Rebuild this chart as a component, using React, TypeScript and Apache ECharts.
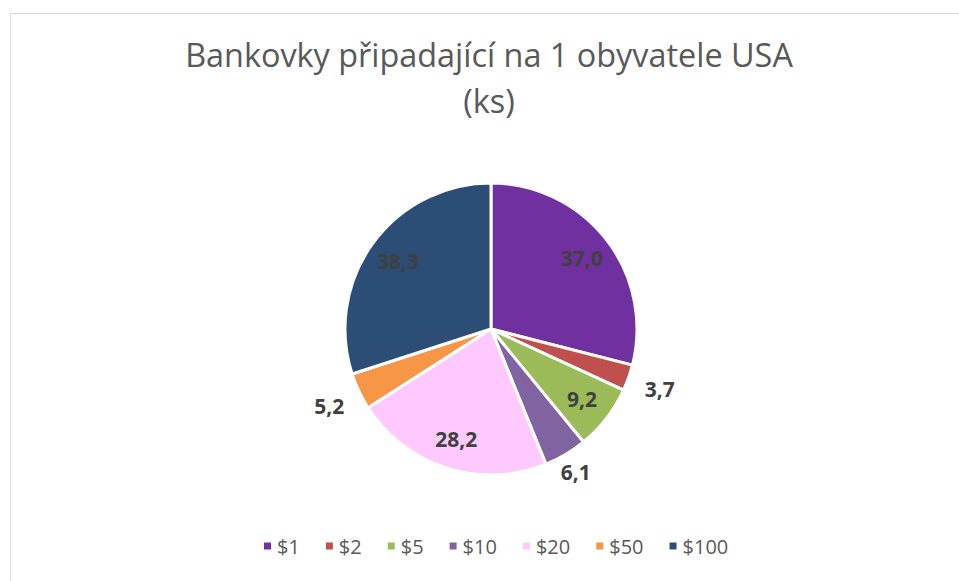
import React, { useEffect, useRef } from "react";
import * as echarts from "echarts";

const categories = ["$1", "$2", "$5", "$10", "$20", "$50", "$100"];
const values = [37.0, 3.7, 9.2, 6.1, 28.2, 5.2, 38.3];
const colors = ["#7030A0", "#C0504D", "#9BBB59", "#8064A2", "#FFC9FF", "#F79646", "#2C4D75"];
const titleLines = ["Bankovky připadající na 1 obyvatele USA", "(ks)"];

const FONT = "'Open Sans', sans-serif";
// label rings: radius of an invisible pie whose inside-label sits at radius/2
const labelRings = [
  { radius: 224, show: [true, false, true, false, true, false, true] },
  { radius: 352, show: [false, true, false, false, false, true, false] },
  { radius: 326, show: [false, false, false, true, false, false, false] },
];

export default function App() {
  const ref = useRef<HTMLDivElement>(null);
  useEffect(() => {
    if (!ref.current) return;
    const chart = echarts.init(ref.current, undefined, { renderer: "svg" });
    const fmt = (v: number) => v.toFixed(1).replace(".", ",");
    const labelStyle = {
      color: "#404040",
      fontSize: 21,
      fontWeight: "bold" as const,
      fontFamily: FONT,
    };
    const overlay = (radius: number, show: boolean[]) => ({
      type: "pie",
      center: [491, 329],
      radius: [0, radius],
      startAngle: 90,
      clockwise: true,
      silent: true,
      avoidLabelOverlap: false,
      emphasis: { disabled: true },
      itemStyle: { color: "rgba(0,0,0,0)", borderWidth: 0 },
      labelLine: { show: false },
      z: 3,
      data: categories.map((name, i) => ({
        name,
        value: values[i],
        itemStyle: { color: "rgba(0,0,0,0)" },
        label: {
          show: show[i],
          position: "inside",
          formatter: () => fmt(values[i]),
          ...labelStyle,
        },
      })),
    });
    chart.setOption({
      animation: false,
      backgroundColor: "#ffffff",
      title: {
        text: titleLines.join("\n"),
        left: 484,
        textAlign: "center",
        top: 26,
        textStyle: {
          color: "#595959",
          fontSize: 32.4,
          fontWeight: "normal",
          fontFamily: FONT,
          lineHeight: 46,
        },
      },
      legend: {
        data: categories,
        bottom: 20,
        left: 257,
        icon: "rect",
        itemWidth: 9,
        itemHeight: 9,
        itemGap: 24,
        textStyle: { color: "#595959", fontSize: 20, fontFamily: FONT },
      },
      graphic: [
        {
          type: "rect",
          shape: { x: 10.5, y: 13.5, width: 1000, height: 1000 },
          style: { fill: "none", stroke: "#d9d9d9", lineWidth: 1 },
          silent: true,
          z: -10,
        },
      ],
      series: [
        {
          type: "pie",
          center: [491, 329],
          radius: [0, 146],
          startAngle: 90,
          clockwise: true,
          silent: true,
          label: { show: false },
          labelLine: { show: false },
          itemStyle: { borderColor: "#ffffff", borderWidth: 3 },
          data: categories.map((name, i) => ({
            name,
            value: values[i],
            itemStyle: { color: colors[i] },
          })),
        },
        ...labelRings.map((r) => overlay(r.radius, r.show)),
      ],
    });
    return () => chart.dispose();
  }, []);
  return (
    <div
      ref={ref}
      style={{ position: "fixed", left: 0, top: 0, width: 959, height: 581 }}
    />
  );
}
